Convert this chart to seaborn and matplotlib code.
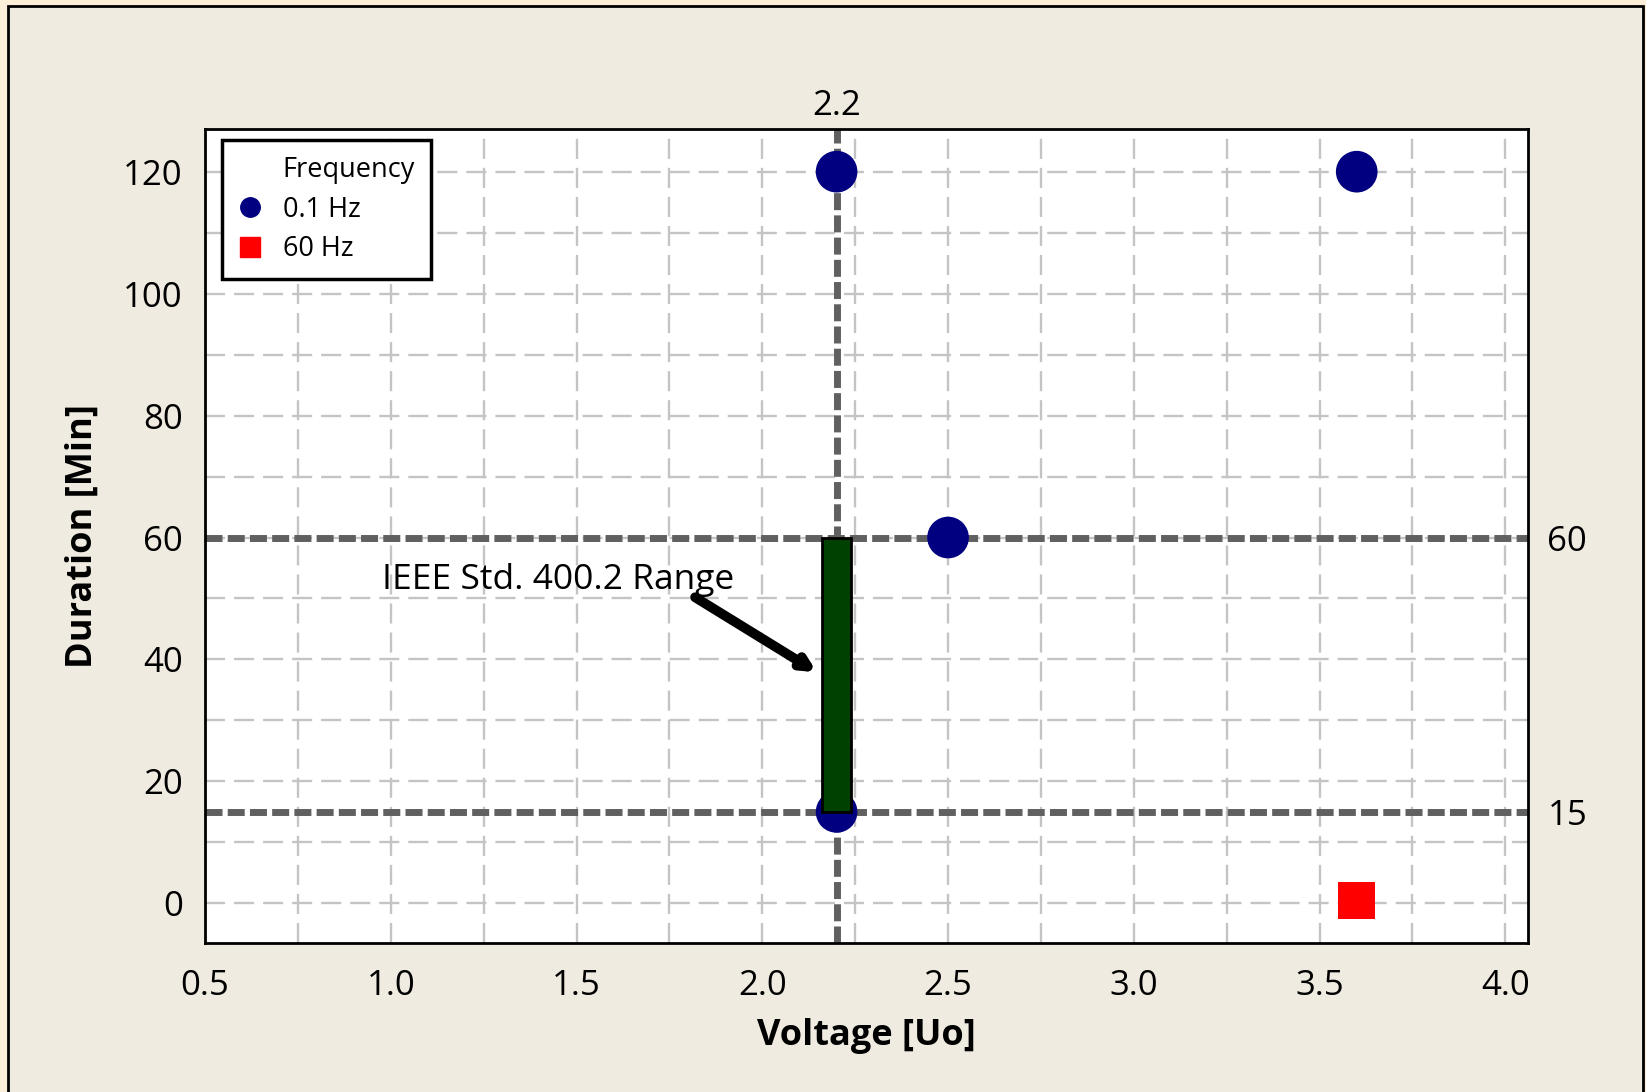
import matplotlib
matplotlib.use("Agg")
import numpy as np
import pandas as pd
import matplotlib.pyplot as plt
import seaborn as sns
from matplotlib.lines import Line2D
from matplotlib.patches import Rectangle
from matplotlib.ticker import MultipleLocator

# * Datos
voltaje_01hz = [2.2, 3.6, 2.5, 2.2]
duracion_01hz = [120, 120, 60, 15]
voltaje_60hz = [3.6]
duracion_60hz = [0.5]
frecuencias = ["0.1 Hz", "60 Hz"]

# lineas de referencia y rango IEEE
ref_voltaje = 2.2
ref_duraciones = [60, 15]
rango_ieee = [15, 60]
texto_rango = "IEEE Std. 400.2 Range"

x_ticks = [0.5, 1.0, 1.5, 2.0, 2.5, 3.0, 3.5, 4.0]
y_ticks = [0, 20, 40, 60, 80, 100, 120]

df = pd.DataFrame(
    {
        "Voltage": voltaje_01hz + voltaje_60hz,
        "Duration": duracion_01hz + duracion_60hz,
        "Frequency": [frecuencias[0]] * len(voltaje_01hz)
        + [frecuencias[1]] * len(voltaje_60hz),
    }
)

# * Estilo
sns.set_style("white")
plt.rcParams["font.family"] = ["Open Sans", "DejaVu Sans"]
plt.rcParams["text.color"] = "black"
plt.rcParams["axes.labelcolor"] = "black"
plt.rcParams["xtick.color"] = "black"
plt.rcParams["ytick.color"] = "black"

colores = {"0.1 Hz": "#000080", "60 Hz": "#FF0000"}
marcadores = {"0.1 Hz": "o", "60 Hz": "s"}

fig = plt.figure(figsize=(16.46, 10.92), dpi=100)
fig.patch.set_facecolor("#FCEFD9")
# marco de fondo
fig.add_artist(
    Rectangle(
        (8 / 1646, -0.01),
        (1643 - 8) / 1646,
        1 - 6 / 1092 + 0.01,
        transform=fig.transFigure,
        facecolor="#EFEBE0",
        edgecolor="black",
        linewidth=2,
        zorder=-5,
    )
)

ax = fig.add_axes([205 / 1646, 1 - 943 / 1092, (1528 - 205) / 1646, (943 - 129) / 1092])
ax.set_zorder(2)
ax.set_facecolor("white")
ax.set_axisbelow(True)

# grilla punteada
ax.xaxis.set_minor_locator(MultipleLocator(0.25))
ax.yaxis.set_minor_locator(MultipleLocator(10))
ax.grid(which="both", color="#C4C4C4", linewidth=1.7, linestyle=(0, (8.5, 3.8)))

# lineas de referencia
linea_ref = dict(color="#606060", linewidth=5, linestyle=(0, (2.45, 0.75)), zorder=2)
ax.axvline(ref_voltaje, **linea_ref)
for d in ref_duraciones:
    ax.axhline(d, **linea_ref)

# puntos
sns.scatterplot(
    data=df,
    x="Voltage",
    y="Duration",
    hue="Frequency",
    style="Frequency",
    size="Frequency",
    palette=colores,
    markers=marcadores,
    sizes={"0.1 Hz": 900, "60 Hz": 710},
    linewidth=0,
    legend=False,
    zorder=3,
    ax=ax,
)

# barra del rango IEEE
ax.bar(
    ref_voltaje,
    rango_ieee[1] - rango_ieee[0],
    bottom=rango_ieee[0],
    width=0.08,
    color="#004000",
    edgecolor="black",
    linewidth=2,
    zorder=4,
)

ax.text(0.976, 53.0, texto_rango, fontsize=25.5, va="center", ha="left", zorder=5)
ax.annotate(
    "",
    xy=(2.147, 37.9),
    xytext=(1.819, 50.2),
    arrowprops=dict(
        arrowstyle="-|>", color="black", lw=7, mutation_scale=18, shrinkA=0, shrinkB=0
    ),
    zorder=5,
)

ax.set_xlim(0.5, 4.061)
ax.set_ylim(-6.5, 127)
ax.set_xticks(x_ticks, labels=[f"{v:.1f}" for v in x_ticks])
ax.set_yticks(y_ticks, labels=[str(v) for v in y_ticks])
ax.tick_params(which="major", direction="out", length=9, width=1.5, labelsize=25, color="black")
ax.tick_params(axis="x", pad=10)
ax.tick_params(axis="y", pad=7)
ax.tick_params(which="minor", length=0)
for s in ax.spines.values():
    s.set_visible(True)
    s.set_color("black")
    s.set_linewidth(2)

ax.set_xlabel("Voltage [Uo]", fontsize=26, fontweight="bold")
ax.set_ylabel("Duration [Min]", fontsize=26, fontweight="bold")
ax.xaxis.set_label_coords(0.5, -0.0925)
ax.yaxis.set_label_coords(-0.079, 0.5)

# etiquetas de las lineas de referencia
sec_top = ax.secondary_xaxis("top")
sec_top.set_xticks([ref_voltaje], labels=[str(ref_voltaje)])
sec_top.tick_params(length=0, pad=4, labelsize=25)
sec_top.spines["top"].set_visible(False)

sec_right = ax.secondary_yaxis("right")
sec_right.set_yticks(ref_duraciones, labels=[str(d) for d in ref_duraciones])
sec_right.tick_params(length=0, pad=14, labelsize=25)
sec_right.spines["right"].set_visible(False)

# leyenda
handles = [Line2D([], [], linestyle="none")]
handles += [
    Line2D([], [], linestyle="none", marker=marcadores[f], color=colores[f], markersize=14)
    for f in frecuencias
]
leg = ax.legend(
    handles,
    ["Frequency"] + frecuencias,
    loc="upper left",
    bbox_to_anchor=(0.0126, 0.9865),
    borderaxespad=0,
    fontsize=19.5,
    frameon=True,
    fancybox=False,
    framealpha=1,
    edgecolor="black",
    borderpad=0.6,
    handlelength=0.9,
    handletextpad=0.75,
    labelspacing=0.42,
)
leg.get_frame().set_linewidth(2.5)
leg.set_zorder(6)

fig.savefig("out.png", dpi=100, facecolor=fig.get_facecolor())
